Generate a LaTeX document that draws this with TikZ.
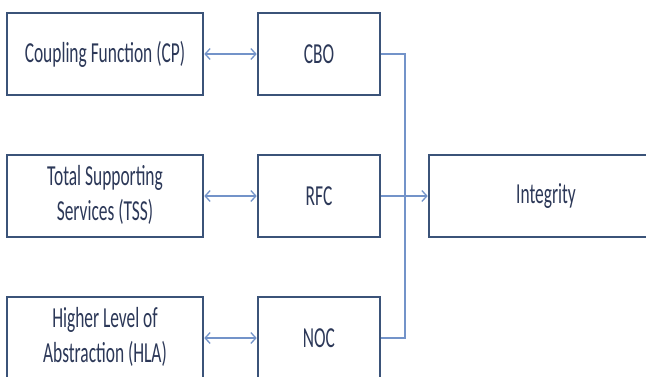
\documentclass[tikz,border=0pt]{standalone}
\usepackage{fontspec}
\setmainfont{Carlito}
\usetikzlibrary{arrows.meta}
\definecolor{boxline}{HTML}{3B5379}
\definecolor{connline}{HTML}{7393C9}
\definecolor{txt}{HTML}{2C3858}
\newcommand\sqz[1]{\scalebox{0.6}[1]{#1}}
\begin{document}
\begin{tikzpicture}[x=1pt,y=-1pt,
  blk/.style={draw=boxline,line width=2.6pt,fill=white,text=txt,
    font=\fontsize{29}{34}\selectfont,inner sep=0pt,align=center},
  leftblk/.style={blk,minimum width=196pt,minimum height=82pt},
  midblk/.style={blk,minimum width=122pt,minimum height=82pt},
  conn/.style={draw=connline,line width=1.3pt},
  >={Straight Barb[length=5pt,width=11pt]}]
\useasboundingbox (0,0) rectangle (646,376);
\begin{scope}
\clip (0,0) rectangle (646,376);
\node[leftblk] (cp) at (105,54) {\sqz{Coupling Function (CP)}};
\node[leftblk] (tss) at (105,196) {\sqz{\begin{tabular}{@{}c@{}}Total Supporting\\[1pt]Services (TSS)\end{tabular}}};
\node[leftblk] (hla) at (105,338) {\sqz{\begin{tabular}{@{}c@{}}Higher Level of\\[1pt]Abstraction (HLA)\end{tabular}}};
\node[midblk] (cbo) at (319,54) {\sqz{CBO}};
\node[midblk] (rfc) at (319,196) {\sqz{RFC}};
\node[midblk] (noc) at (319,338) {\sqz{NOC}};
\node[blk,minimum width=234pt,minimum height=82pt] (integ) at (546,196) {\sqz{Integrity}};
\coordinate (j) at (405,196);
\draw[conn,<->] (cp.east) -- (cbo.west);
\draw[conn,<->] (tss.east) -- (rfc.west);
\draw[conn,<->] (hla.east) -- (noc.west);
\draw[conn] (cbo.east) -| (j) |- (noc.east);
\draw[conn,->] (rfc.east) -- (integ.west);
\end{scope}
\end{tikzpicture}
\end{document}
